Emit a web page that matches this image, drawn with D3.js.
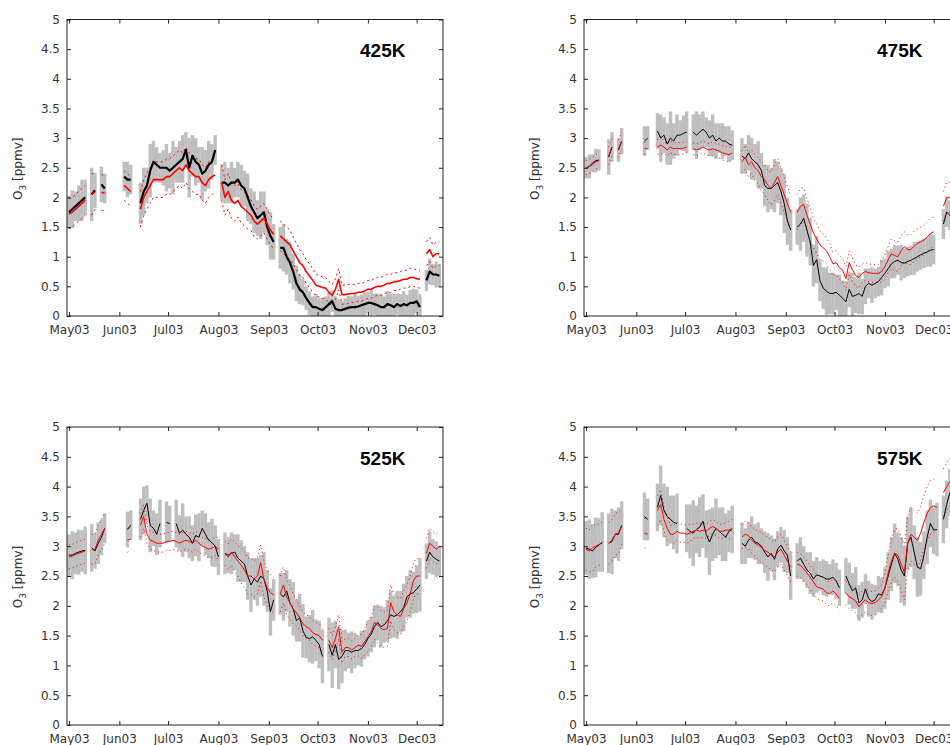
<!DOCTYPE html>
<html><head><meta charset="utf-8">
<script src="https://cdn.jsdelivr.net/npm/d3@7"></script>
<style>body{margin:0;background:#fff}svg{display:block}</style>
</head><body>
<svg id="chart" width="950" height="745"></svg>
<script>
// ---- data (samples every 2 days from 1 May 2003) ----
const sampleStart = "2003-05-01";
const sampleStepDays = 2;
const monthLabels = ["May03","Jun03","Jul03","Aug03","Sep03","Oct03","Nov03","Dec03"];
const yTicks = [0,0.5,1,1.5,2,2.5,3,3.5,4,4.5,5];
const panelNames = ["425K","475K","525K","575K"];

const black425 = [1.75,1.8,1.85,1.9,1.95,2.0,null,2.05,2.12,null,
2.22,2.15,null,null,null,null,null,2.35,2.3,2.3,
null,null,1.9,2.1,2.2,2.45,2.6,2.55,2.5,2.5,
2.5,2.45,2.5,2.55,2.6,2.65,2.8,2.5,2.7,2.6,
2.55,2.4,2.45,2.55,2.6,2.8,null,2.25,2.25,2.2,
2.25,2.25,2.3,2.2,2.15,2.0,1.85,1.75,1.65,1.7,
1.75,1.5,1.35,1.25,null,1.15,1.15,1.0,0.9,0.75,
0.55,0.45,0.4,0.3,0.22,0.15,0.15,0.12,0.1,0.15,
0.2,0.25,0.12,0.1,0.1,0.12,0.14,0.15,0.15,0.16,
0.18,0.2,0.22,0.22,0.2,0.18,0.15,0.15,0.2,0.18,
0.15,0.2,0.17,0.2,0.18,0.22,0.22,0.25,0.15,null,
0.6,0.75,0.7,0.7,0.68];
const red425 = [1.72,1.75,1.8,1.85,1.9,1.95,null,2.05,2.1,null,
2.08,2.08,null,null,null,null,null,2.2,2.15,2.1,
null,null,1.8,2.0,2.1,2.2,2.3,2.3,2.3,2.3,
2.35,2.35,2.4,2.45,2.5,2.45,2.55,2.45,2.4,2.35,
2.35,2.25,2.2,2.3,2.35,2.38,null,2.25,2.0,2.1,
1.95,1.9,1.95,1.85,1.8,1.75,1.7,1.6,1.55,1.6,
1.65,1.55,1.45,1.38,null,1.35,1.3,1.25,1.2,1.1,
1.0,0.9,0.85,0.75,0.68,0.6,0.52,0.5,0.48,0.47,
0.4,0.35,0.45,0.62,0.36,0.36,0.37,0.38,0.38,0.4,
0.4,0.42,0.45,0.45,0.48,0.5,0.5,0.52,0.55,0.55,
0.58,0.58,0.6,0.62,0.62,0.65,0.65,0.63,0.62,null,
1.05,1.12,1.0,1.05,1.05];
const errBlack425 = [0.28,0.32,0.25,0.3,0.35,0.3,0.3,0.45,0.3,0.3,
0.3,0.25,0.3,0.3,0.3,0.3,0.3,0.25,0.3,0.25,
0.3,0.3,0.35,0.4,0.3,0.45,0.35,0.3,0.25,0.3,
0.4,0.3,0.45,0.3,0.35,0.4,0.3,0.5,0.35,0.4,
0.3,0.45,0.35,0.4,0.3,0.25,0.3,0.3,0.35,0.3,
0.35,0.25,0.3,0.35,0.3,0.4,0.3,0.35,0.3,0.4,
0.35,0.3,0.4,0.3,0.3,0.35,0.4,0.3,0.35,0.3,
0.3,0.25,0.22,0.2,0.2,0.18,0.22,0.18,0.2,0.18,
0.2,0.18,0.22,0.18,0.15,0.18,0.2,0.18,0.22,0.18,
0.18,0.2,0.18,0.22,0.18,0.2,0.22,0.18,0.22,0.2,
0.22,0.18,0.2,0.22,0.18,0.22,0.24,0.2,0.22,0.2,
0.18,0.22,0.18,0.22,0.2];
const errRed425 = [0.25,0.25,0.25,0.25,0.25,0.25,0.3,0.35,0.3,0.3,
0.3,0.3,0.3,0.3,0.3,0.3,0.3,0.25,0.25,0.25,
0.3,0.3,0.3,0.3,0.3,0.3,0.3,0.3,0.3,0.3,
0.3,0.3,0.3,0.3,0.3,0.3,0.3,0.3,0.3,0.3,
0.3,0.3,0.3,0.3,0.3,0.3,0.3,0.3,0.3,0.3,
0.3,0.3,0.28,0.28,0.28,0.28,0.26,0.26,0.25,0.25,
0.25,0.25,0.25,0.25,0.25,0.25,0.25,0.25,0.25,0.23,
0.22,0.22,0.2,0.2,0.2,0.2,0.18,0.18,0.18,0.18,
0.18,0.18,0.18,0.18,0.16,0.16,0.16,0.15,0.15,0.15,
0.15,0.15,0.15,0.15,0.15,0.15,0.15,0.15,0.15,0.15,
0.15,0.15,0.15,0.15,0.15,0.15,0.15,0.15,0.15,0.15,
0.2,0.2,0.2,0.2,0.2];

const black475 = [2.5,2.52,2.58,2.62,2.63,null,null,2.68,2.85,null,
2.8,2.95,null,null,null,null,null,null,2.95,3.0,
null,null,3.12,3.0,3.05,2.9,3.0,2.95,3.05,3.05,
3.08,3.1,null,3.1,3.05,3.1,3.15,3.1,3.0,3.05,
2.95,3.0,2.95,2.95,2.9,2.88,null,null,2.7,2.65,
2.75,2.65,2.6,2.55,2.45,2.2,2.15,2.15,2.2,2.25,
2.1,1.9,1.6,1.45,null,1.5,1.55,1.65,1.45,1.25,
0.85,0.95,0.6,0.47,0.42,0.38,0.38,0.4,0.35,0.3,
0.24,0.45,0.33,0.35,0.38,0.33,0.5,0.55,0.52,0.55,
0.58,0.65,0.72,0.8,0.88,0.92,0.94,0.9,0.89,0.92,
0.94,0.97,1.0,1.03,1.06,1.08,1.11,1.12,null,null,
1.55,1.75,1.7,1.72,1.7];
const red475 = [2.5,2.52,2.55,2.6,2.62,null,null,2.7,2.85,null,
2.82,2.95,null,null,null,null,null,null,2.83,2.82,
null,null,2.85,2.88,2.85,2.8,2.85,2.82,2.83,2.82,
2.83,2.85,null,2.82,2.8,2.82,2.85,2.82,2.8,2.82,
2.8,2.78,2.75,2.74,2.72,2.75,null,null,2.6,2.68,
2.55,2.6,2.5,2.45,2.35,2.3,2.2,2.15,2.25,2.35,
2.2,2.05,1.9,1.75,null,1.75,1.85,1.88,1.7,1.55,
1.4,1.3,1.2,1.15,1.1,1.0,0.88,0.9,0.82,0.77,
0.63,0.9,0.78,0.68,0.65,0.72,0.75,0.73,0.72,0.72,
0.72,0.75,0.83,0.95,1.05,1.02,1.0,1.1,1.17,1.12,
1.12,1.18,1.22,1.25,1.28,1.33,1.39,1.42,null,null,
1.85,2.0,2.0,2.0,2.05];
const errBlack475 = [0.18,0.2,0.15,0.2,0.18,0.2,0.2,0.3,0.25,0.2,
0.2,0.22,0.2,0.2,0.2,0.2,0.2,0.3,0.25,0.2,
0.25,0.25,0.3,0.4,0.3,0.35,0.45,0.3,0.35,0.25,
0.3,0.35,0.25,0.3,0.4,0.3,0.3,0.25,0.3,0.35,
0.3,0.25,0.3,0.25,0.3,0.25,0.2,0.25,0.3,0.25,
0.3,0.35,0.3,0.4,0.3,0.35,0.4,0.35,0.45,0.35,
0.4,0.5,0.4,0.35,0.3,0.3,0.45,0.4,0.45,0.4,
0.35,0.4,0.35,0.35,0.4,0.35,0.35,0.3,0.35,0.3,
0.35,0.3,0.4,0.3,0.35,0.3,0.3,0.25,0.3,0.25,
0.25,0.3,0.25,0.3,0.25,0.28,0.25,0.3,0.25,0.25,
0.25,0.28,0.25,0.25,0.25,0.25,0.28,0.25,0.25,0.25,
0.25,0.25,0.25,0.25,0.25];
const errRed475 = [0.12,0.12,0.12,0.12,0.12,0.12,0.15,0.15,0.15,0.15,
0.15,0.15,0.15,0.15,0.15,0.15,0.15,0.1,0.1,0.1,
0.1,0.1,0.12,0.15,0.1,0.1,0.1,0.1,0.1,0.1,
0.1,0.1,0.1,0.1,0.1,0.1,0.1,0.1,0.1,0.12,
0.12,0.12,0.12,0.12,0.12,0.12,0.15,0.15,0.18,0.2,
0.2,0.2,0.22,0.22,0.25,0.25,0.25,0.28,0.3,0.3,
0.3,0.3,0.28,0.28,0.28,0.3,0.3,0.28,0.28,0.28,
0.25,0.25,0.25,0.22,0.22,0.22,0.2,0.2,0.2,0.2,
0.2,0.2,0.2,0.18,0.18,0.15,0.15,0.15,0.15,0.15,
0.15,0.18,0.2,0.22,0.25,0.25,0.25,0.25,0.25,0.25,
0.25,0.25,0.25,0.25,0.25,0.25,0.25,0.25,0.25,0.25,
0.25,0.25,0.25,0.25,0.25];

const black525 = [2.85,2.85,2.88,2.9,2.92,2.93,null,2.97,2.92,3.05,
3.15,3.3,null,null,null,null,null,null,3.28,3.35,
null,null,3.45,3.6,3.72,3.35,3.3,3.2,3.38,null,
3.4,3.38,null,3.38,3.22,3.27,3.2,3.15,3.05,3.18,
3.15,3.3,3.2,3.1,3.06,3.0,2.82,null,2.88,2.85,
2.88,2.9,2.8,2.75,2.7,2.5,2.35,2.45,2.4,2.5,
2.45,2.25,1.9,2.1,null,2.2,2.15,2.25,2.05,1.95,
1.75,1.8,1.58,1.47,1.45,1.48,1.42,1.35,1.15,null,
1.35,1.17,1.35,1.1,1.15,1.25,1.25,1.22,1.25,1.25,
1.28,1.35,1.45,1.52,1.65,1.72,1.65,1.68,1.75,1.85,
1.82,1.85,1.9,1.97,2.15,2.2,2.22,2.28,2.35,null,
2.75,2.9,2.82,2.78,2.75];
const red525 = [2.82,2.83,2.86,2.88,2.9,2.92,null,2.95,2.95,3.1,
3.2,3.3,null,null,null,null,null,null,3.1,3.12,
null,null,3.35,3.5,3.2,3.1,3.08,3.05,3.05,3.05,
3.08,3.08,3.1,3.08,3.05,3.08,3.1,3.08,3.05,3.1,
3.05,3.0,2.98,2.95,2.97,3.0,2.95,null,2.88,2.82,
2.9,2.82,2.75,2.68,2.6,2.5,2.5,2.45,2.5,2.72,
2.45,2.3,2.22,2.18,null,2.2,2.35,2.15,2.05,1.95,
1.88,1.8,1.7,1.65,1.62,1.55,1.52,1.5,1.42,null,
1.42,1.3,1.45,1.65,1.22,1.3,1.3,1.26,1.3,1.34,
1.32,1.4,1.48,1.56,1.72,1.68,1.62,1.6,1.62,2.05,
1.9,1.85,1.82,1.95,2.05,2.2,2.42,2.5,2.5,null,
2.88,3.05,3.0,2.95,3.0];
const errBlack525 = [0.35,0.4,0.35,0.38,0.35,0.4,0.35,0.4,0.3,0.35,
0.3,0.25,0.3,0.3,0.3,0.3,0.3,0.35,0.3,0.25,
0.3,0.3,0.35,0.4,0.3,0.45,0.3,0.35,0.4,0.3,
0.35,0.3,0.35,0.4,0.3,0.45,0.3,0.35,0.3,0.35,
0.4,0.3,0.35,0.3,0.4,0.35,0.3,0.4,0.35,0.3,
0.35,0.3,0.4,0.35,0.3,0.4,0.45,0.35,0.4,0.35,
0.45,0.35,0.4,0.35,0.3,0.35,0.4,0.35,0.4,0.45,
0.35,0.4,0.45,0.35,0.4,0.45,0.35,0.4,0.45,0.35,
0.45,0.55,0.4,0.5,0.45,0.35,0.3,0.35,0.3,0.25,
0.3,0.25,0.3,0.3,0.35,0.3,0.35,0.3,0.35,0.4,
0.35,0.4,0.35,0.4,0.35,0.4,0.35,0.4,0.45,0.35,
0.3,0.35,0.3,0.3,0.25];
const errRed525 = [0.2,0.2,0.2,0.2,0.2,0.2,0.2,0.25,0.25,0.25,
0.25,0.25,0.25,0.25,0.25,0.25,0.25,0.2,0.2,0.2,
0.2,0.2,0.2,0.2,0.15,0.15,0.15,0.15,0.15,0.15,
0.15,0.15,0.15,0.15,0.15,0.15,0.15,0.15,0.15,0.15,
0.15,0.15,0.15,0.15,0.15,0.15,0.2,0.2,0.2,0.22,
0.22,0.25,0.25,0.3,0.3,0.3,0.3,0.3,0.3,0.3,
0.3,0.3,0.3,0.3,0.3,0.3,0.3,0.3,0.28,0.25,
0.22,0.2,0.2,0.2,0.2,0.2,0.2,0.2,0.2,0.2,
0.2,0.2,0.2,0.2,0.18,0.15,0.15,0.15,0.15,0.18,
0.2,0.22,0.25,0.25,0.28,0.3,0.3,0.3,0.3,0.3,
0.3,0.3,0.3,0.3,0.3,0.3,0.3,0.3,0.3,0.3,
0.25,0.25,0.25,0.25,0.25];

const black575 = [2.97,2.95,2.92,2.98,3.02,3.07,null,3.05,3.08,3.2,
3.2,3.35,null,null,null,null,null,null,3.5,3.45,
null,null,3.65,3.85,3.6,3.5,3.45,3.4,3.38,null,
null,3.3,3.25,3.22,3.28,3.32,3.42,3.2,3.07,3.2,
3.3,3.25,3.2,3.15,3.25,3.28,null,null,3.05,3.0,
3.1,3.15,3.07,3.05,3.0,2.9,2.82,2.88,2.78,2.95,
3.02,2.92,2.85,2.5,null,2.75,2.8,2.7,2.6,2.55,
2.45,2.52,2.5,2.48,2.45,2.45,2.48,2.42,2.3,null,
2.5,2.37,2.25,2.3,2.05,2.1,2.28,2.12,2.07,2.1,
2.2,2.18,2.3,2.5,2.7,2.88,2.78,2.6,2.5,3.05,
3.15,2.9,2.65,2.62,2.85,3.15,3.38,3.27,3.28,null,
3.45,3.7,3.9,3.95,4.0];
const red575 = [2.95,2.92,2.97,3.0,3.03,3.05,null,3.05,3.1,3.2,
3.22,3.33,null,null,null,null,null,null,3.22,3.2,
null,null,3.6,3.7,3.45,3.3,3.2,3.2,3.25,3.22,
3.22,3.2,3.22,3.25,3.27,3.25,3.27,3.25,3.3,3.33,
3.3,3.25,3.25,3.27,3.27,3.3,null,null,3.15,3.2,
3.18,3.1,3.05,3.02,2.98,2.93,2.9,2.85,2.82,2.9,
2.95,2.85,2.75,2.65,null,2.7,2.68,2.62,2.55,2.48,
2.4,2.32,2.3,2.28,2.22,2.2,2.25,2.2,2.12,null,
2.22,2.15,2.12,2.08,1.98,2.05,2.1,2.05,2.04,2.05,
2.1,2.15,2.3,2.55,2.75,2.88,2.85,2.7,2.55,3.05,
3.2,3.15,3.1,3.22,3.4,3.55,3.65,3.68,3.65,null,
3.9,4.0,4.08,4.1,4.1];
const errBlack575 = [0.45,0.5,0.45,0.5,0.45,0.5,0.45,0.5,0.55,0.4,
0.45,0.4,0.4,0.4,0.4,0.4,0.4,0.35,0.4,0.35,
0.4,0.4,0.4,0.5,0.45,0.5,0.4,0.45,0.5,0.4,
0.5,0.4,0.45,0.55,0.4,0.5,0.45,0.4,0.55,0.45,
0.5,0.4,0.45,0.4,0.35,0.4,0.35,0.4,0.35,0.3,
0.3,0.35,0.3,0.35,0.3,0.35,0.4,0.3,0.35,0.3,
0.3,0.35,0.3,0.4,0.35,0.3,0.35,0.3,0.3,0.35,
0.3,0.3,0.25,0.3,0.3,0.25,0.3,0.3,0.3,0.35,
0.3,0.35,0.3,0.35,0.3,0.3,0.25,0.3,0.3,0.25,
0.3,0.3,0.35,0.4,0.45,0.5,0.45,0.55,0.5,0.45,
0.5,0.45,0.5,0.45,0.4,0.45,0.4,0.4,0.45,0.4,
0.4,0.4,0.4,0.4,0.4];
const errRed575 = [0.35,0.35,0.4,0.35,0.35,0.35,0.35,0.35,0.35,0.35,
0.35,0.3,0.3,0.3,0.3,0.3,0.3,0.25,0.25,0.25,
0.25,0.25,0.25,0.25,0.2,0.2,0.15,0.15,0.15,0.15,
0.15,0.15,0.15,0.12,0.12,0.12,0.12,0.12,0.12,0.12,
0.12,0.12,0.12,0.12,0.15,0.15,0.2,0.2,0.2,0.22,
0.22,0.22,0.22,0.25,0.25,0.25,0.25,0.25,0.25,0.25,
0.25,0.25,0.25,0.25,0.2,0.2,0.2,0.2,0.2,0.2,
0.2,0.2,0.2,0.2,0.2,0.2,0.2,0.2,0.2,0.2,
0.2,0.2,0.2,0.2,0.2,0.2,0.2,0.2,0.2,0.2,
0.2,0.2,0.25,0.3,0.35,0.4,0.45,0.45,0.45,0.45,
0.45,0.45,0.45,0.45,0.45,0.45,0.45,0.45,0.45,0.45,
0.4,0.4,0.4,0.4,0.4];

// ---- build ----
const series = [
  {black: black425, red: red425, errB: errBlack425, errR: errRed425},
  {black: black475, red: red475, errB: errBlack475, errR: errRed475},
  {black: black525, red: red525, errB: errBlack525, errR: errRed525},
  {black: black575, red: red575, errB: errBlack575, errR: errRed575}
];
const layout = [
  {x0: 67, y0: 19.5, y1: 316, lw: 2.2, rw: 1.6, dash: "2,3"},
  {x0: 584, y0: 19.5, y1: 316, lw: 1, rw: 1, dash: "1,3"},
  {x0: 67, y0: 427, y1: 725, lw: 1, rw: 1, dash: "1,3"},
  {x0: 584, y0: 427, y1: 725, lw: 1, rw: 1, dash: "1,3"}
];
const plotW = 376;
const t0 = Date.parse(sampleStart + "T00:00:00Z");
const dates = d3.range(black425.length).map(i => new Date(t0 + i * sampleStepDays * 864e5));
const monthDates = monthLabels.map((m, i) => new Date(Date.UTC(2003, 4 + i, 1)));
const domain = [new Date(Date.UTC(2003, 3, 29, 19)), new Date(Date.UTC(2003, 11, 17, 5))];

const svg = d3.select("#chart");
const FONT = "DejaVu Sans, Verdana, sans-serif";

series.forEach((s, p) => {
  const L = layout[p];
  const x = d3.scaleUtc().domain(domain).range([L.x0, L.x0 + plotW]);
  const y = d3.scaleLinear().domain([0, 5]).range([L.y1, L.y0]);
  const g = svg.append("g");
  const cid = "clip" + p;
  g.append("clipPath").attr("id", cid).append("rect")
    .attr("x", L.x0).attr("y", L.y0).attr("width", plotW).attr("height", L.y1 - L.y0);
  const plot = g.append("g").attr("clip-path", `url(#${cid})`);
  const barW = x(dates[1]) - x(dates[0]) + 0.15;

  // gray error bars
  const idx = d3.range(dates.length).filter(i => s.black[i] != null);
  plot.append("g").selectAll("rect").data(idx).join("rect")
    .attr("x", i => x(dates[i]) - barW / 2).attr("width", barW)
    .attr("y", i => y(s.black[i] + s.errB[i]))
    .attr("height", i => y(s.black[i] - s.errB[i]) - y(s.black[i] + s.errB[i]))
    .attr("fill", "#bebebe");

  const mk = f => d3.line().defined((d, i) => s.red[i] != null && f(i) != null)
      .x((d, i) => x(dates[i])).y((d, i) => y(f(i)));
  // red envelope
  [1, -1].forEach(sg => {
    plot.append("path").datum(dates)
      .attr("d", mk(i => s.red[i] == null ? null : s.red[i] + sg * s.errR[i]))
      .attr("fill", "none").attr("stroke", "#ff0000").attr("stroke-width", 1)
      .attr("stroke-dasharray", L.dash);
  });
  // black line
  plot.append("path").datum(dates)
    .attr("d", d3.line().defined((d, i) => s.black[i] != null)
      .x((d, i) => x(dates[i])).y((d, i) => y(s.black[i])))
    .attr("fill", "none").attr("stroke", "#000").attr("stroke-width", L.lw)
    .attr("stroke-linejoin", "round");
  // red line
  plot.append("path").datum(dates)
    .attr("d", mk(i => s.red[i]))
    .attr("fill", "none").attr("stroke", "#ff0000").attr("stroke-width", L.rw)
    .attr("stroke-linejoin", "round");

  // axes (inward ticks)
  const ax = (sel) => sel.call(g2 => g2.select(".domain").remove())
    .call(g2 => g2.selectAll("line").attr("stroke", "#222"))
    .call(g2 => g2.selectAll("text").attr("fill", "#333").style("font-family", FONT).style("font-size", "12px"));
  g.append("g").attr("transform", `translate(0,${L.y1})`)
    .call(d3.axisBottom(x).tickValues(monthDates).tickFormat((d, i) => monthLabels[i])
      .tickSizeInner(-4).tickSizeOuter(0).tickPadding(9.5)).call(ax);
  g.append("g").attr("transform", `translate(0,${L.y0})`)
    .call(d3.axisTop(x).tickValues(monthDates).tickFormat("")
      .tickSizeInner(-4).tickSizeOuter(0)).call(ax);
  g.append("g").attr("transform", `translate(${L.x0},0)`)
    .call(d3.axisLeft(y).tickValues(yTicks).tickFormat(d => String(d))
      .tickSizeInner(-4).tickSizeOuter(0).tickPadding(7)).call(ax);
  g.append("g").attr("transform", `translate(${L.x0 + plotW},0)`)
    .call(d3.axisRight(y).tickValues(yTicks).tickFormat("")
      .tickSizeInner(-4).tickSizeOuter(0)).call(ax);
  g.selectAll(".tick text").attr("font-family", null);

  // frame
  g.append("rect").attr("x", L.x0).attr("y", L.y0).attr("width", plotW).attr("height", L.y1 - L.y0)
    .attr("fill", "none").attr("stroke", "#222").attr("stroke-width", 1);

  // y title
  const yt = g.append("text")
    .attr("transform", `translate(${L.x0 - 45},${(L.y0 + L.y1) / 2 + 1}) rotate(-90)`)
    .attr("text-anchor", "middle").attr("fill", "#333")
    .style("font-family", FONT).style("font-size", "12px");
  yt.append("tspan").text("O");
  yt.append("tspan").attr("dy", 4).style("font-size", "9px").text("3");
  yt.append("tspan").attr("dy", -4).text(" [ppmv]");

  // panel label
  g.append("text").attr("x", L.x0 + 293).attr("y", L.y0 + 37.5)
    .style("font-family", "Liberation Sans, Arial, sans-serif").style("font-weight", "bold")
    .style("font-size", "19px").attr("fill", "#000").text(panelNames[p]);
});
</script>
</body></html>
